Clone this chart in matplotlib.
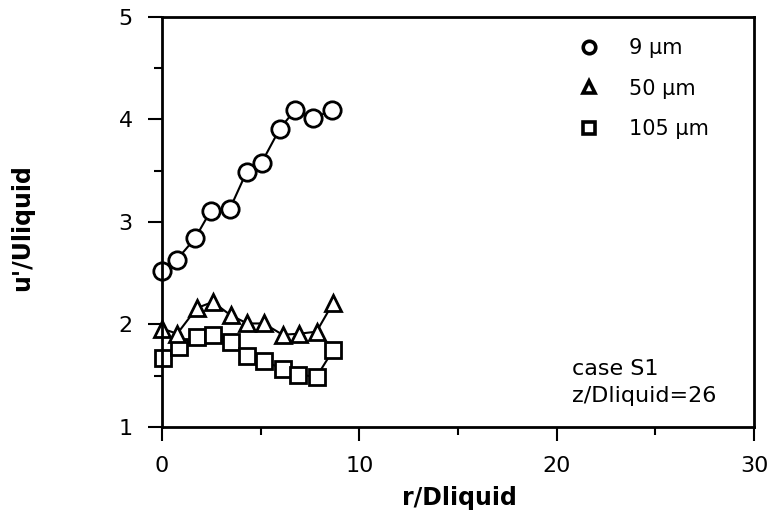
import matplotlib
matplotlib.use("Agg")
import matplotlib.pyplot as plt
from matplotlib.lines import Line2D
from matplotlib.ticker import MultipleLocator

plt.rcParams['font.family'] = ['DejaVu Sans']

# Data
x_9 = [0.0, 0.74, 1.67, 2.47, 3.44, 4.29, 5.05, 5.97, 6.73, 7.66, 8.59]
y_9 = [2.52, 2.63, 2.84, 3.11, 3.13, 3.49, 3.58, 3.91, 4.09, 4.01, 4.09]

x_50 = [0.0, 0.77, 1.76, 2.57, 3.48, 4.32, 5.16, 6.11, 6.95, 7.83, 8.67]
y_50 = [1.96, 1.91, 2.16, 2.22, 2.09, 2.01, 2.01, 1.90, 1.91, 1.93, 2.21]

x_105 = [0.04, 0.88, 1.76, 2.60, 3.48, 4.32, 5.16, 6.11, 6.90, 7.83, 8.67]
y_105 = [1.67, 1.78, 1.88, 1.90, 1.83, 1.69, 1.64, 1.57, 1.51, 1.49, 1.75]

legend_labels = ["9 \u03bcm", "50 \u03bcm", "105 \u03bcm"]
x_ticks = [0, 10, 20, 30]
y_ticks = [1, 2, 3, 4, 5]

fig = plt.figure(figsize=(7.73, 5.18), dpi=100)
ax = fig.add_axes([0.2096, 0.1757, 0.9754 - 0.2096, 0.9672 - 0.1757])

lw = 1.5
mew = 2.0
ax.plot(x_105, y_105, color='black', lw=lw, marker='s', ms=11.5,
        mfc='white', mec='black', mew=mew, zorder=2, clip_on=False)
ax.plot(x_50, y_50, color='black', lw=lw, marker='^', ms=11.5,
        mfc='white', mec='black', mew=mew, zorder=3, clip_on=False)
ax.plot(x_9, y_9, color='black', lw=lw, marker='o', ms=12.5,
        mfc='white', mec='black', mew=mew, zorder=4, clip_on=False)

ax.set_xlim(0, 30)
ax.set_ylim(1, 5)
ax.set_xticks(x_ticks)
ax.set_yticks(y_ticks)
ax.xaxis.set_minor_locator(MultipleLocator(5))
ax.yaxis.set_minor_locator(MultipleLocator(0.5))
ax.tick_params(which='major', direction='out', length=10, width=1.5,
               labelsize=16, pad=11, top=False, right=False)
ax.tick_params(which='minor', direction='out', length=6, width=1.5,
               top=False, right=False)
for s in ax.spines.values():
    s.set_linewidth(2.0)
    s.set_zorder(5)

# legend
handles = [
    Line2D([], [], ls='none', marker='o', ms=9, mfc='white', mec='black', mew=2.6),
    Line2D([], [], ls='none', marker='^', ms=9, mfc='white', mec='black', mew=2.6),
    Line2D([], [], ls='none', marker='s', ms=9, mfc='white', mec='black', mew=2.6),
]
ax.legend(handles, legend_labels, loc='upper left', frameon=False,
          fontsize=15, handlelength=1.0, handletextpad=1.42,
          labelspacing=0.98, borderaxespad=0.0, borderpad=0.0,
          bbox_to_anchor=(0.703, 0.948))

ax.text(0.692, 0.127, "case S1", transform=ax.transAxes, fontsize=16,
        ha='left', va='baseline')
ax.text(0.692, 0.061, "z/Dliquid=26", transform=ax.transAxes, fontsize=16,
        ha='left', va='baseline')

fig.text(0.594, 0.038, "r/Dliquid", fontsize=17, fontweight='bold',
         ha='center', va='center')
fig.text(0.028, 0.56, "u'/Uliquid", fontsize=17, fontweight='bold',
         ha='center', va='center', rotation=90)

fig.savefig("out.png", dpi=100)
